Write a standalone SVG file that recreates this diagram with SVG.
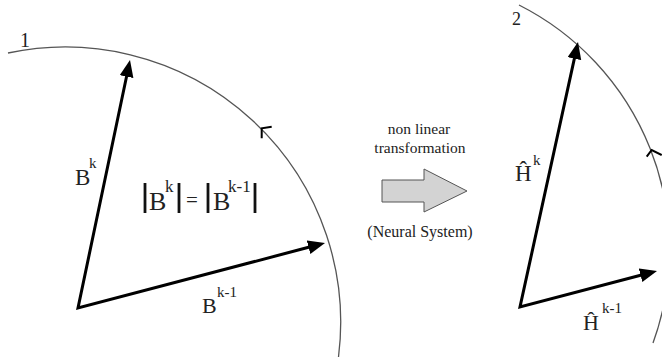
<svg xmlns="http://www.w3.org/2000/svg" width="662" height="363" viewBox="0 0 662 363">
<style>
.arc{fill:none;stroke:#555;stroke-width:1.3}
.vec{fill:none;stroke:#000;stroke-width:3;stroke-linejoin:miter}
.chev{fill:none;stroke:#000;stroke-width:2}
.t{font-family:"Liberation Serif","Times New Roman",serif;fill:#222}
.bar{stroke:#111;stroke-width:2.8}
</style>
<defs>
<marker id="ah" markerUnits="userSpaceOnUse" markerWidth="18" markerHeight="15" refX="3" refY="7" orient="auto-start-reverse">
<path d="M0,0 L17,7 L0,14 z" fill="#000"/>
</marker>
</defs>
<g id="circle1">
<path class="arc" d="M8,53 A275.4,275.4 0 0 1 338.5,357"/>
<path class="chev" d="M271.7,126.7 L261.7,128.3 L261.7,138.3"/>
<text class="t" x="20" y="47" font-size="20">1</text>
</g>
<g id="circle2">
<path class="arc" d="M519,5 A274,274 0 0 1 653,343"/>
<path class="chev" d="M646.7,156.7 L651.7,150 L661.7,155"/>
<text class="t" x="512" y="25" font-size="18">2</text>
</g>
<g id="connectors">
<path class="vec" d="M127.13,73.7 L78,308 L311.46,246.56" marker-start="url(#ah)" marker-end="url(#ah)"/>
<path class="vec" d="M575.01,55.68 L520,307 L643.46,274.56" marker-start="url(#ah)" marker-end="url(#ah)"/>
</g>
<g id="label-Bk">
<text class="t" x="75" y="185" font-size="23">B</text>
<text class="t" x="89" y="168" font-size="15">k</text>
</g>
<g id="label-Bk1">
<text class="t" x="202" y="313" font-size="22">B</text>
<text class="t" x="217" y="297" font-size="15">k-1</text>
</g>
<g id="equation">
<line class="bar" x1="145" y1="183" x2="145" y2="213"/>
<text class="t" x="149" y="210" font-size="26">B</text>
<text class="t" x="165" y="192" font-size="17">k</text>
<line class="bar" x1="179" y1="183" x2="179" y2="213"/>
<text class="t" x="186" y="207" font-size="21">=</text>
<line class="bar" x1="208" y1="183" x2="208" y2="213"/>
<text class="t" x="213" y="210" font-size="26">B</text>
<text class="t" x="228" y="192" font-size="17">k-1</text>
<line class="bar" x1="255" y1="183" x2="255" y2="213"/>
</g>
<g id="label-Hk">
<text class="t" x="515" y="181" font-size="23">Ĥ</text>
<text class="t" x="533" y="165" font-size="15">k</text>
</g>
<g id="label-Hk1">
<text class="t" x="583" y="330" font-size="22">Ĥ</text>
<text class="t" x="602" y="313" font-size="15">k-1</text>
</g>
<g id="transform">
<text class="t" x="419" y="134" font-size="15.5" text-anchor="middle">non linear</text>
<text class="t" x="420" y="153" font-size="15.5" text-anchor="middle">transformation</text>
<path d="M382,180 L424,180 L424,169 L467,191 L424,212 L424,202 L382,202 z" fill="#d3d3d3" stroke="#555" stroke-width="1"/>
<text class="t" x="420" y="237" font-size="16" text-anchor="middle">(Neural System)</text>
</g>
</svg>
